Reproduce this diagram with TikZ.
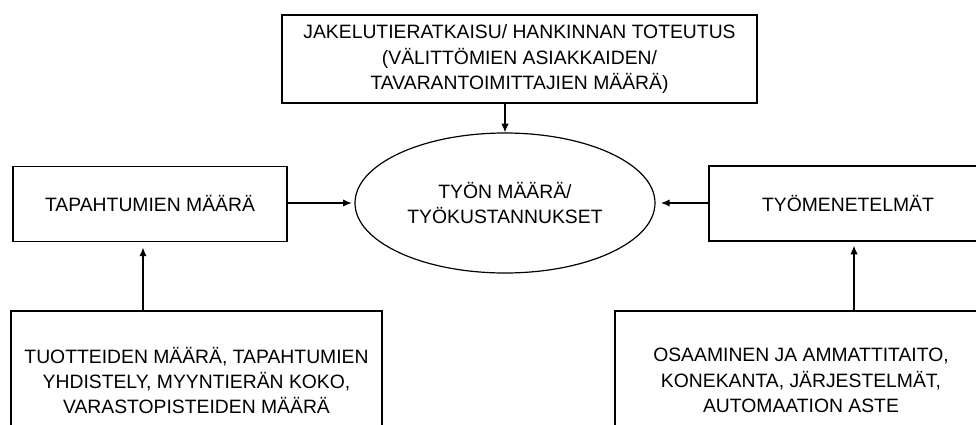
\documentclass[tikz,border=0pt]{standalone}
\usepackage{fontspec}
\setmainfont{Liberation Sans}
\usetikzlibrary{arrows.meta,shapes.geometric}
\begin{document}
\begin{tikzpicture}[x=0.75pt,y=-0.75pt,
  every node/.style={font=\fontsize{14.5}{19.1}\selectfont, align=center, inner sep=0pt},
  box/.style={draw, line width=0.9pt, rectangle, minimum width=#1},
  oval/.style={draw, line width=0.9pt, ellipse},
  arr/.style={-{Latex[length=6.5pt,width=5.5pt]}, line width=1pt}]
  \useasboundingbox (0,0) rectangle (976,425);
  \clip (0,0) rectangle (976,425);

  % central ellipse
  \node[oval, minimum width=300*0.75pt, minimum height=140*0.75pt] (work) at (505,203)
    {TYÖN MÄÄRÄ/\\TYÖKUSTANNUKSET};

  % top box
  \node[box=475*0.75pt, minimum height=88*0.75pt] (channel) at (519.5,59)
    {JAKELUTIERATKAISU/ HANKINNAN TOTEUTUS\\(VÄLITTÖMIEN ASIAKKAIDEN/\\TAVARANTOIMITTAJIEN MÄÄRÄ)};

  % side boxes
  \node[box=274*0.75pt, minimum height=75*0.75pt] (events) at (150,204)
    {TAPAHTUMIEN MÄÄRÄ};
  \node[box=278*0.75pt, minimum height=75*0.75pt] (methods) at (848,203.5)
    {TYÖMENETELMÄT};

  % lower boxes, running past the lower edge
  \node[box=371*0.75pt, minimum height=139*0.75pt] (products) at (196.5,380.5)
    {TUOTTEIDEN MÄÄRÄ, TAPAHTUMIEN\\YHDISTELY, MYYNTIERÄN KOKO,\\VARASTOPISTEIDEN MÄÄRÄ};
  \node[box=372*0.75pt, minimum height=139*0.75pt] (skills) at (801,380.5)
    {OSAAMINEN JA AMMATTITAITO,\\KONEKANTA, JÄRJESTELMÄT,\\AUTOMAATION ASTE};

  % connectors
  \draw[arr] (channel.south -| work.north) -- (work.north);
  \draw[arr, shorten >=2pt] (events.east |- work.west) -- (work.west);
  \draw[arr, shorten >=4pt] (methods.west |- work.east) -- (work.east);
  \draw[arr, shorten >=4pt] ([xshift=-53.5*0.75pt]products.north) -- ([xshift=-53.5*0.75pt]products.north |- events.south);
  \draw[arr, shorten >=3pt] ([xshift=53*0.75pt]skills.north) -- ([xshift=53*0.75pt]skills.north |- methods.south);
\end{tikzpicture}
\end{document}
